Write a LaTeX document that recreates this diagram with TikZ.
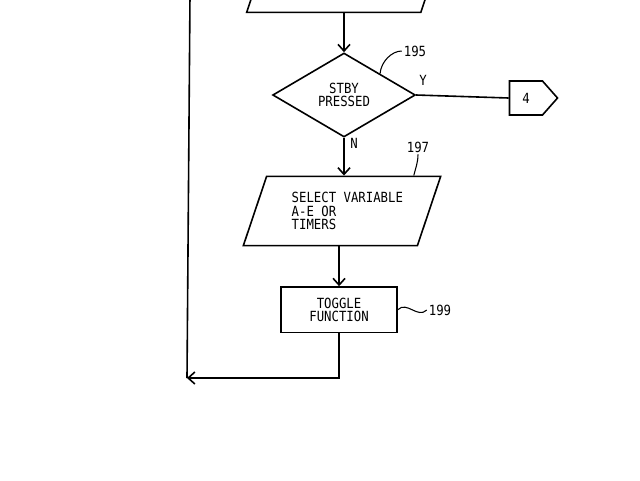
\documentclass[tikz,border=0pt]{standalone}
\usepackage{fontspec}
\newfontfamily\chartfont[FakeStretch=0.88]{DejaVu Sans Mono}
\usetikzlibrary{shapes.geometric,shapes.symbols,positioning,arrows.meta}

\begin{document}
\begin{tikzpicture}[x=0.75pt,y=-0.75pt,>={Straight Barb[length=5pt,width=9pt]},
  on grid,line width=1.2pt,font=\chartfont\fontsize{10.5}{10}\selectfont,
  io/.style={draw,trapezium,trapezium left angle=58,trapezium right angle=122,
    trapezium stretches body,minimum width=148pt,minimum height=52pt,inner sep=0pt,align=left},
  test/.style={draw,diamond,minimum width=107pt,minimum height=63pt,inner sep=0pt,align=center},
  act/.style={draw,rectangle,minimum width=87pt,minimum height=34pt,inner sep=0pt,align=center},
  offpage/.style={draw,signal,signal to=east,signal pointer angle=97,
    minimum width=36pt,minimum height=25.5pt,inner sep=0pt},
  refnum/.style={inner sep=1pt}]
  \clip (0,0) rectangle (640,480);
  \node[test] (stby) at (344,95) {STBY\\PRESSED};
  \node[io] (prev) [above=88pt of stby,xshift=1pt] {\phantom{SELECT VARIABLE}\\\phantom{A}\\\phantom{A}};
  \node[io] (sel) [below=87pt of stby,xshift=-1.5pt] {\hspace{8pt}SELECT VARIABLE\\\hspace{8pt}A-E OR\\\hspace{8pt}TIMERS};
  \node[act] (tog) [below=74pt of sel,xshift=-2.2pt] {TOGGLE\\FUNCTION};
  \node[offpage] (off) at (526,98) {4\hspace{12pt}};
  \coordinate (back) at (187,378);
  \coordinate (top) at (190,-5);
  % labels
  \node (yes) at (423,80) {Y};
  \node (no) at (354,143) {N};
  \node[refnum] (n195) at (415,51) {195};
  \node[refnum] (n197) at (418,147) {197};
  \node[refnum] (n199) at (440,310) {199};
  % flow
  \draw[->] (prev.south -| stby.north) -- (stby.north);
  \draw (stby.east) -- (off.west);
  \draw[->] (stby.south) -- (stby.south |- sel.north);
  \draw[->] (tog.north |- sel.south) -- (tog.north);
  \draw[->] (tog.south) |- (back);
  \draw (back) -- (top);
  % leaders
  \draw[line width=0.8pt] (stby.north east) .. controls +(1,-12) and +(-10,0) .. (n195.west);
  \draw[line width=0.8pt] (n197.south) .. controls +(0,8) and +(2,-8) .. ([xshift=-21pt]sel.top right corner);
  \draw[line width=0.8pt] (tog.east) .. controls +(9,-9) and +(-9,9) .. (n199.west);
\end{tikzpicture}
\end{document}
